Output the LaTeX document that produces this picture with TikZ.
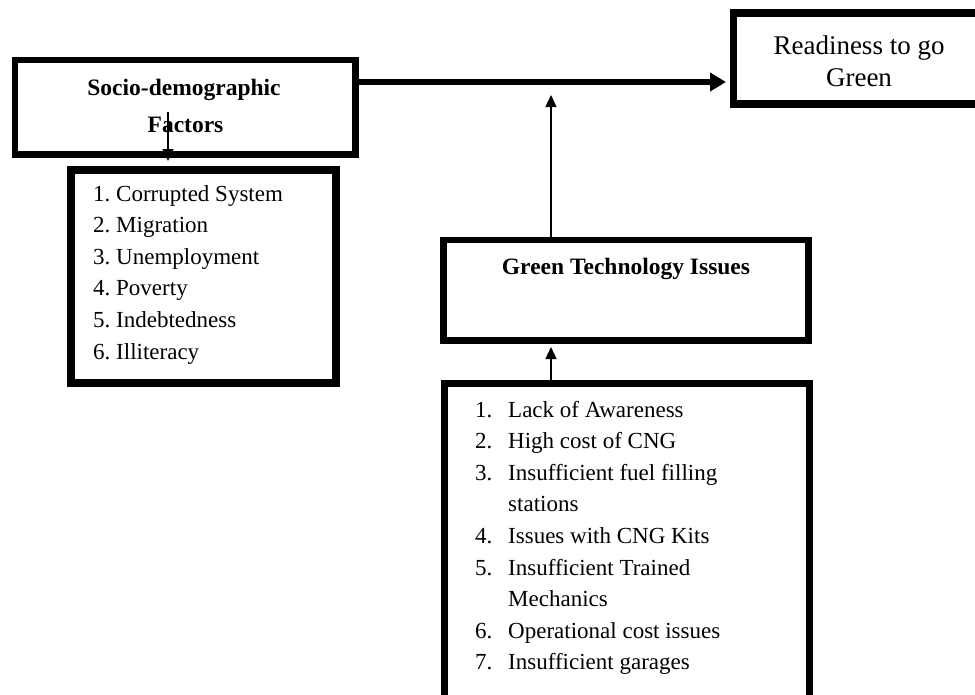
\documentclass[tikz,border=0pt]{standalone}
\usepackage{fontspec}
\setmainfont{Liberation Serif}
\usetikzlibrary{arrows.meta}
\begin{document}
\begin{tikzpicture}[x=1pt,y=-1pt,
  box/.style={draw, rectangle, inner sep=0pt, line width=#1},
  txt/.style={inner sep=0pt, font=\fontsize{23}{27}\selectfont},
  boldtxt/.style={inner sep=0pt, font=\fontsize{23.5}{27}\selectfont\bfseries},
  bigtxt/.style={inner sep=0pt, font=\fontsize{27}{31}\selectfont},
  thinarrow/.style={line width=1.3pt, -{Triangle[length=12pt,width=11pt]}},
  mainarrow/.style={line width=6pt, -{Triangle[length=16pt,width=18pt]}}]
\useasboundingbox (0,0) rectangle (975,694);
\fill[white] (0,0) rectangle (975,694);

% boxes
\node[box=6.5pt, minimum width=340.5pt, minimum height=94.5pt] (socio) at (185.25,107.25) {};
\node[box=8pt, minimum width=265pt, minimum height=213pt] (slist) at (203.5,276.5) {};
\node[box=7.5pt, minimum width=246.5pt, minimum height=91pt] (ready) at (856.75,58.5) {};
\node[box=6.5pt, minimum width=365pt, minimum height=100.5pt] (gt) at (626,290.25) {};
\node[box=7pt, minimum width=365pt, minimum height=336.5pt] (glist) at (626.5,551.75) {};

% titles
\node[boldtxt, anchor=base] (sA) at (184,95) {Socio-demographic};
\node[boldtxt, anchor=base] (sB) at (185.5,132) {Factors};
\node[bigtxt, anchor=base] (rA) at (859,54) {Readiness to go};
\node[bigtxt, anchor=base] (rB) at (859,86) {Green};
\node[boldtxt, anchor=base] (gA) at (626,274) {Green Technology Issues};

% socio list
\foreach \t [count=\i] in {Corrupted System, Migration, Unemployment, Poverty, Indebtedness, Illiteracy}
  \node[txt, anchor=base west] (s\i) at (93,{201+31.6*(\i-1)}) {\i.\ \t};

% green list
\foreach \n/\t [count=\i] in {1./Lack of Awareness, 2./High cost of CNG, 3./Insufficient fuel filling, /stations, 4./Issues with CNG Kits, 5./Insufficient Trained, /Mechanics, 6./Operational cost issues, 7./Insufficient garages} {
  \node[txt, anchor=base west] (gn\i) at (475,{417+31.6*(\i-1)}) {\n};
  \node[txt, anchor=base west] (gt\i) at (508,{417+31.6*(\i-1)}) {\t};
}

% connectors
\coordinate (mainy) at (0,82);
\draw[mainarrow, shorten >=3.75pt] (socio.east |- mainy) -- (ready.west |- mainy);
\coordinate (vtip) at (551,95);
\draw[thinarrow] (gt.north -| vtip) -- (vtip);
\draw[thinarrow, shorten >=3.25pt] (glist.north -| vtip) -- (gt.south -| vtip);
\coordinate (sstart) at (168,112);
\draw[thinarrow, shorten >=-3.25pt] (sstart) -- (socio.south -| sstart);
\end{tikzpicture}
\end{document}
